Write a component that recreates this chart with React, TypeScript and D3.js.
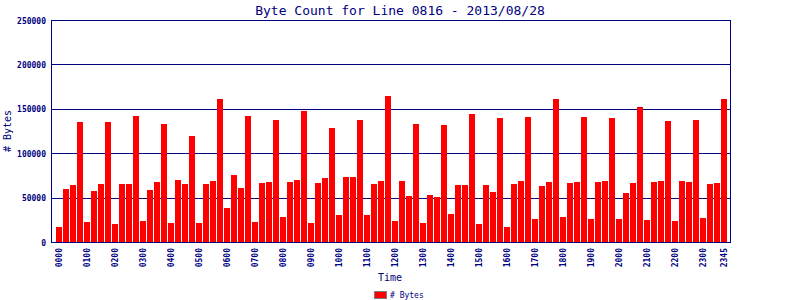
import React from "react";
import * as d3 from "d3";

const title = "Byte Count for Line 0816 - 2013/08/28";
const yLabel = "# Bytes";
const xLabel = "Time";
const seriesName = "# Bytes";

const byteCounts: number[] = [
  17200, 60000, 64500, 135500, 22900, 57800, 65600, 135500,
  20600, 65600, 65600, 142200, 24000, 58900, 67900, 133200,
  21700, 70200, 65600, 119700, 21700, 65600, 69000, 161200,
  38600, 75800, 61100, 142200, 22900, 66800, 67900, 137700,
  28500, 67900, 70200, 147900, 21700, 66800, 72400, 128700,
  30700, 73500, 73500, 137700, 30700, 65600, 69000, 164700,
  24000, 69000, 52100, 133200, 21700, 53300, 51000, 132100,
  31900, 64500, 64500, 144500, 20600, 64500, 56600, 140000,
  17200, 65600, 69000, 141100, 26200, 63400, 67900, 161200,
  28500, 66800, 67900, 141100, 26200, 67900, 69000, 140000,
  26200, 55500, 66800, 152400, 25100, 67900, 69000, 136600,
  24000, 69000, 67900, 137700, 27400, 65600, 66800, 161200,
];

const tickIndexes: number[] = [0, 4, 8, 12, 16, 20, 24, 28, 32, 36, 40, 44, 48, 52, 56, 60, 64, 68, 72, 76, 80, 84, 88, 92, 95];
const tickLabels: string[] = [
  "0000", "0100", "0200", "0300", "0400", "0500", "0600", "0700", "0800", "0900",
  "1000", "1100", "1200", "1300", "1400", "1500", "1600", "1700", "1800", "1900",
  "2000", "2100", "2200", "2300", "2345",
];
const yTicks: number[] = [0, 50000, 100000, 150000, 200000, 250000];

const NAVY = "#000080";
const MONO = "'DejaVu Sans Mono', monospace";

export default function App() {
  const W = 800, H = 300;
  const left = 51, right = 730, top = 20, bottom = 242;
  const y = d3.scaleLinear().domain([0, 250000]).range([bottom + 0.5, top + 0.5]);
  const x = d3
    .scaleBand<number>()
    .domain(byteCounts.map((_, i) => i))
    .range([56, 727])
    .paddingInner(1 / 7)
    .paddingOuter(0);

  return (
    <svg width={W} height={H} style={{ position: "absolute", left: 0, top: 0, background: "#fff" }}>
      <text x={400} y={15} textAnchor="middle" fontFamily={MONO} fontSize={13} fill={NAVY}>
        {title}
      </text>
      <g shapeRendering="crispEdges">
        {yTicks.map((t) => (
          <line key={t} x1={left} x2={right} y1={y(t)} y2={y(t)} stroke={NAVY} strokeWidth={1} />
        ))}
        {byteCounts.map((v, i) => (
          <rect key={i} x={x(i)} y={y(v)} width={x.bandwidth()} height={bottom + 1 - y(v)} fill="#ff0000" />
        ))}
        <line x1={left + 0.5} x2={left + 0.5} y1={top} y2={bottom + 1} stroke={NAVY} />
        <line x1={right + 0.5} x2={right + 0.5} y1={top} y2={bottom + 1} stroke={NAVY} />
        <line x1={left} x2={right + 1} y1={top + 0.5} y2={top + 0.5} stroke={NAVY} />
        <line x1={left} x2={right + 1} y1={bottom + 0.5} y2={bottom + 0.5} stroke={NAVY} />
      </g>
      {yTicks.map((t) => (
        <text key={t} x={46} y={y(t) + 3} textAnchor="end" fontFamily={MONO} fontSize={8} fontWeight="bold" fill={NAVY}>
          {t}
        </text>
      ))}
      {tickIndexes.map((idx, k) => {
        const cx = (x(idx) as number) + x.bandwidth() / 2 + 2.5;
        return (
          <text
            key={idx}
            transform={`translate(${cx},248) rotate(-90)`}
            textAnchor="end"
            fontFamily={MONO}
            fontSize={8}
            fontWeight="bold"
            fill={NAVY}
          >
            {tickLabels[k]}
          </text>
        );
      })}
      <text transform="translate(11,131) rotate(-90)" textAnchor="middle" fontFamily={MONO} fontSize={10} fill={NAVY}>
        {yLabel}
      </text>
      <text x={390} y={281} textAnchor="middle" fontFamily={MONO} fontSize={10} fill={NAVY}>
        {xLabel}
      </text>
      <rect x={374.5} y={291.5} width={12} height={7} fill="#ff0000" stroke="#808080" strokeWidth={1} shapeRendering="crispEdges" />
      <text x={390} y={298} fontFamily={MONO} fontSize={8} fill={NAVY}>
        {seriesName}
      </text>
    </svg>
  );
}
